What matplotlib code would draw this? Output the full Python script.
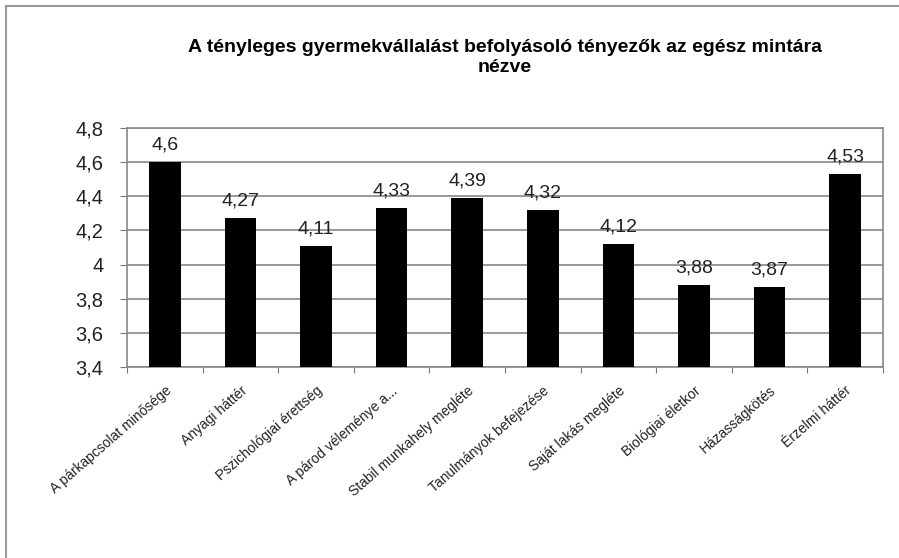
import matplotlib
matplotlib.use("Agg")
import matplotlib.pyplot as plt
from matplotlib.lines import Line2D

plt.rcParams['font.family'] = ['Liberation Sans', 'DejaVu Sans']

categories = ["A párkapcsolat minősége", "Anyagi háttér", "Pszichológiai érettség",
              "A párod véleménye a...", "Stabil munkahely megléte", "Tanulmányok befejezése",
              "Saját lakás megléte", "Biológiai életkor", "Házasságkötés", "Érzelmi háttér"]
values = [4.6, 4.27, 4.11, 4.33, 4.39, 4.32, 4.12, 3.88, 3.87, 4.53]
yticks = [3.4, 3.6, 3.8, 4.0, 4.2, 4.4, 4.6, 4.8]

fig = plt.figure(figsize=(8.99, 5.58), dpi=100)
ax = fig.add_axes([127 / 899, 1 - 367 / 558, (883 - 127) / 899, (367 - 128) / 558])

x = list(range(len(categories)))
ax.bar(x, values, width=0.42, color="black", zorder=3)
ax.set_xlim(-0.5, len(categories) - 0.5)
ax.set_ylim(3.4, 4.8)
ax.set_yticks(yticks)
ax.set_yticklabels([f"{t:g}".replace(".", ",") for t in yticks], fontsize=14.5, color="#222222")
ax.yaxis.grid(True, color="#888888", linewidth=1.2, zorder=0)

# category boundaries get the tick marks, labels sit at the centres
ax.set_xticks([i - 0.5 for i in range(len(categories) + 1)], minor=False)
ax.set_xticklabels([])
ax.set_xticks(x, minor=True)
ax.set_xticklabels(categories, minor=True, rotation=41, ha="right",
                   rotation_mode="anchor", fontsize=10, color="#222222")
ax.tick_params(axis="x", which="minor", length=0, pad=12)
ax.tick_params(axis="x", which="major", length=4, color="#777777", direction="out")
ax.tick_params(axis="y", length=5, color="#777777", pad=12)

for s in ax.spines.values():
    s.set_color("#888888")
    s.set_linewidth(1.2)

for xi, v in zip(x, values):
    ax.text(xi, v + 0.05, f"{v:g}".replace(".", ","), ha="center", va="bottom",
            fontsize=14, color="#222222")

fig.text(0.5615, 1 - 47 / 558, "A tényleges gyermekvállalást befolyásoló tényezők az egész mintára",
         ha="center", va="center", fontsize=14, fontweight="bold")
fig.text(0.5615, 1 - 68 / 558, "nézve", ha="center", va="center", fontsize=14, fontweight="bold")

fig.add_artist(Line2D([6 / 899, 6 / 899], [0, 1 - 6 / 558], color="#999999", linewidth=1.5))
fig.add_artist(Line2D([6 / 899, 1], [1 - 6 / 558, 1 - 6 / 558], color="#999999", linewidth=1.5))

fig.savefig("out.png", dpi=100)
